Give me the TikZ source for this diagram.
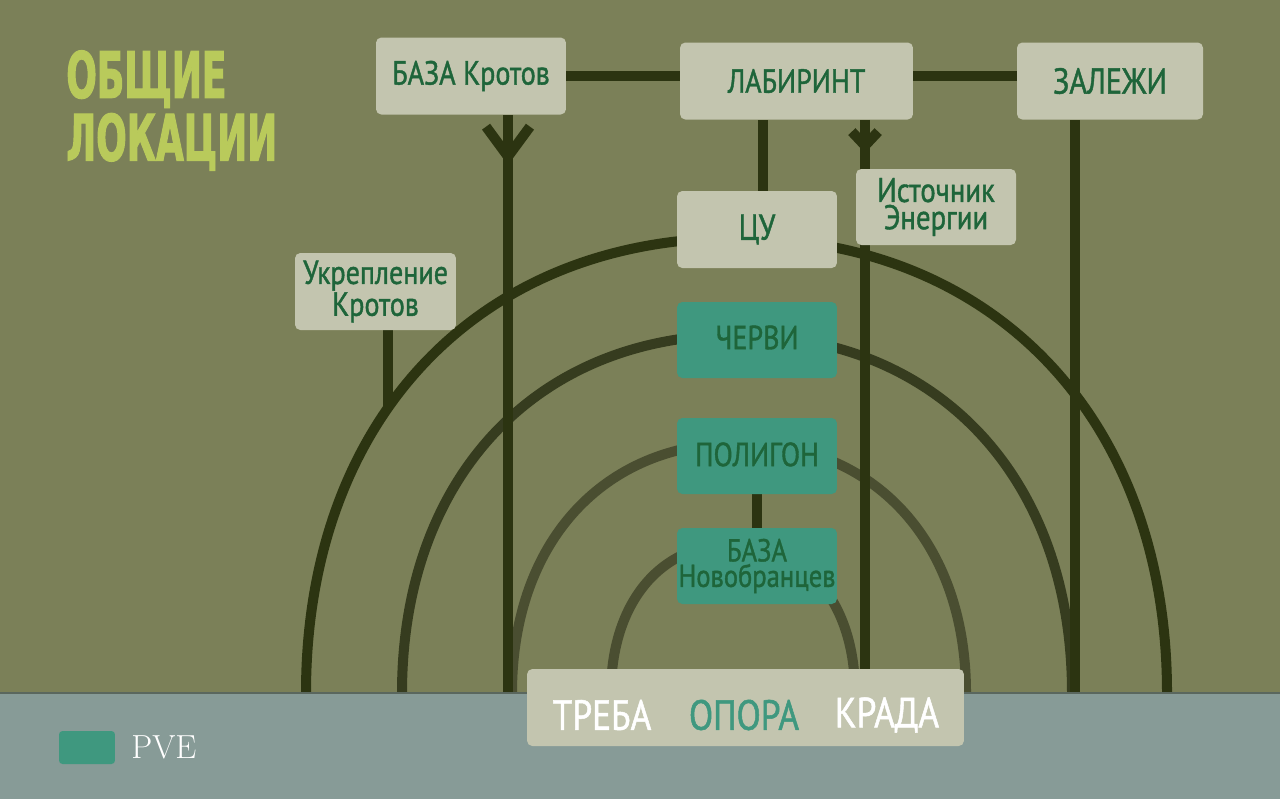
\documentclass[tikz,border=0pt]{standalone}
\usepackage{fontspec}
\usetikzlibrary{arrows.meta}
\newfontfamily\locfont{PT Sans}[FakeStretch=0.84,FakeBold=1.2]
\newfontfamily\titlefont{DejaVu Sans}[FakeStretch=0.56,FakeBold=1.5]
\definecolor{field}{HTML}{7B8058}
\definecolor{ground}{HTML}{879B97}
\definecolor{groundedge}{HTML}{5A675E}
\definecolor{card}{HTML}{C3C5AF}
\definecolor{pvecol}{HTML}{3F987F}
\definecolor{label}{HTML}{1E653A}
\definecolor{wire}{HTML}{2C3411}
\definecolor{wiretwo}{HTML}{363C1F}
\definecolor{wiregray}{HTML}{4A4E31}
\definecolor{headline}{HTML}{B9CA5B}
\pgfdeclarelayer{rings}
\pgfdeclarelayer{links}
\pgfsetlayers{rings,links,main}
\begin{document}
\begin{tikzpicture}[x=0.02cm,y=-0.02cm,
  every node/.style={font=\locfont\fontsize{19}{15}\selectfont,text=label,align=center,inner sep=0pt},
  loc/.style={fill=card,rounded corners=3pt,minimum height=1.54cm},
  pve/.style={fill=pvecol,rounded corners=3pt,minimum width=3.2cm,minimum height=1.52cm},
  link/.style={draw=wire,line width=5.7pt},
  ring/.style={line width=5.7pt}]
\useasboundingbox (0,0) rectangle (1280,799);
% locations
\node[loc,minimum width=3.8cm] (bk) at (471,76) {БАЗА Кротов};
\node[loc,minimum width=4.66cm] (lab) at (796.5,81) {ЛАБИРИНТ};
\node[loc,minimum width=3.72cm,font=\locfont\fontsize{20.5}{16}\selectfont] (zal) at (1110,81) {ЗАЛЕЖИ};
\node[loc,minimum width=3.2cm,font=\locfont\fontsize{20.5}{16}\selectfont] (cu) at (757,229.5) {ЦУ};
\node[loc,minimum width=3.2cm,minimum height=1.52cm,font=\locfont\fontsize{19.5}{15.5}\selectfont] (ist) at (936,207) {Источник\\Энергии};
\node[loc,minimum width=3.22cm,font=\locfont\fontsize{19}{15}\selectfont] (ukr) at (375.5,291.5) {Укрепление\\Кротов};
\node[pve] (worms) at (757,340) {\raisebox{3pt}{ЧЕРВИ}};
\node[pve] (pol) at (757,456) {\raisebox{2pt}{ПОЛИГОН}};
\node[pve,font=\locfont\fontsize{18}{14.5}\selectfont] (nov) at (757,566) {БАЗА\\Новобранцев};
\node[loc,minimum width=8.74cm] (bar) at (745.5,707.5) {};
\node[text=white,font=\locfont\fontsize{24}{24}\selectfont] (treba) at (602,715) {ТРЕБА};
\node[text=pvecol,font=\locfont\fontsize{24}{24}\selectfont] (opora) at (744,715) {ОПОРА};
\node[text=white,font=\locfont\fontsize{24}{24}\selectfont] (krada) at (887,715) {КРАДА};
% title and legend
\node[anchor=north west,align=left,text=headline,font=\titlefont\bfseries\fontsize{36.5}{35.7}\selectfont] (title) at (66,50) {ОБЩИЕ\\ЛОКАЦИИ};
\node[fill=pvecol,rounded corners=2pt,minimum width=1.12cm,minimum height=0.66cm] (pvebox) at (87,747.5) {};
\node[anchor=west,text=white,font=\rmfamily\fontsize{19}{20}\selectfont] (pvetxt) at (131,747) {PVE};
\coordinate (bkmark) at (508,165);
\coordinate (bkfoot) at (508,693);
\coordinate (labmark) at (865,153);
\coordinate (labfoot) at (865,693);
\coordinate (zalfoot) at (1075,693);
\coordinate (ukrfoot) at (388,410);
\coordinate (cutop) at ([xshift=0.12cm]cu.north);
% rings
\begin{pgfonlayer}{rings}
\fill[field] (0,0) rectangle (1280,799);
\foreach \l/\r/\t/\col in {306/1167/238/wire,402/1072/335/wiretwo,512/966/443/wiregray,611/855/544/wiregray}
  \draw[ring,draw=\col] (\l,696) -- (\l,693) .. controls (\l,{693-0.6*(693-\t)}) and ({(\l+\r)/2-0.3*(\r-\l)},\t) .. ({(\l+\r)/2},\t)
    .. controls ({(\l+\r)/2+0.3*(\r-\l)},\t) and (\r,{693-0.6*(693-\t)}) .. (\r,693) -- (\r,696);
\end{pgfonlayer}
% links
\begin{pgfonlayer}{links}
\draw[link] (bk.east) -- (bk.east -| lab.west);
\draw[link] (bk.east -| lab.east) -- (bk.east -| zal.west);
\draw[link,-{Straight Barb[length=17pt,width=25pt]}] (bkmark |- bk.south) -- (bkmark);
\draw[link] (bkmark |- bk.south) -- (bkfoot);
\draw[link,-{Straight Barb[length=8pt,width=15pt]}] (labmark |- lab.south) -- (labmark);
\draw[link] (labmark |- lab.south) -- (labfoot);
\draw[link] (cutop |- lab.south) -- (cutop);
\draw[link] (zalfoot |- zal.south) -- (zalfoot);
\draw[link] (ukrfoot |- ukr.south) -- (ukrfoot);
\draw[link] (pol.south) -- (nov.north);
% ground
\fill[ground] (0,693) rectangle (1280,799);
\draw[groundedge,line width=1.2pt] (0,693) -- (1280,693);
\end{pgfonlayer}
\end{tikzpicture}
\end{document}
